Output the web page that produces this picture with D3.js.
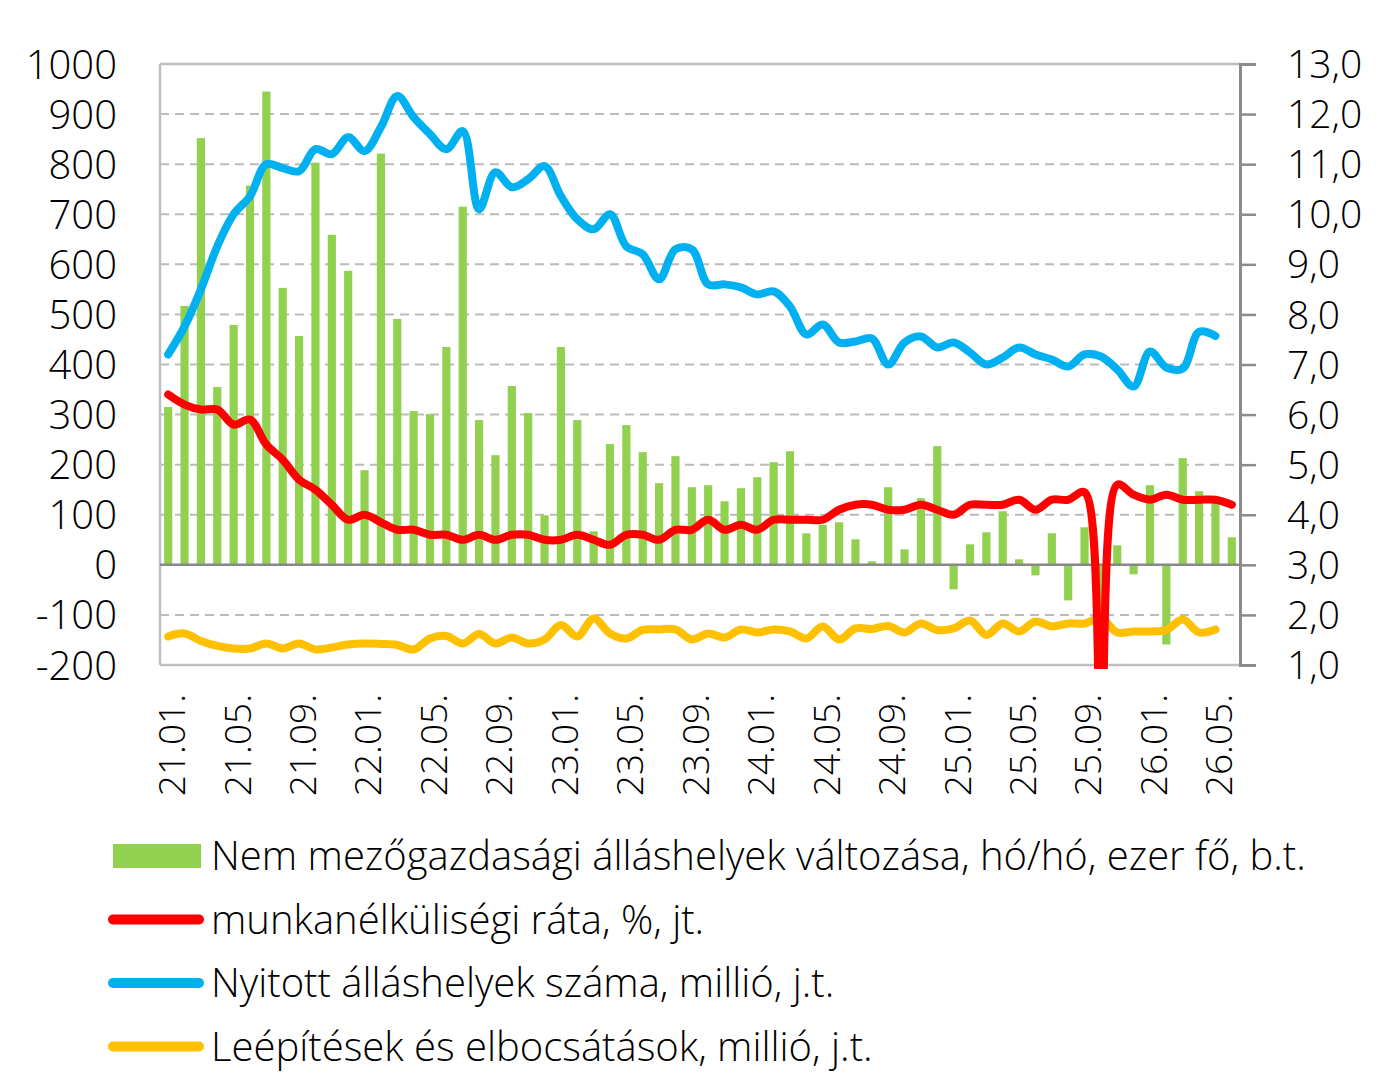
<!DOCTYPE html>
<html>
<head>
<meta charset="utf-8">
<script src="https://cdn.jsdelivr.net/npm/d3@7"></script>
<style>
  body { margin: 0; background: #fff; }
  text { font-family: "Open Sans", sans-serif; font-weight: 300; fill: #000; }
</style>
</head>
<body>
<script>
// categories: 21.01. ... 26.06. (labels every 4th)
const months = ['21.01.','21.02.','21.03.','21.04.','21.05.','21.06.','21.07.','21.08.','21.09.','21.10.','21.11.','21.12.',
  '22.01.','22.02.','22.03.','22.04.','22.05.','22.06.','22.07.','22.08.','22.09.','22.10.','22.11.','22.12.',
  '23.01.','23.02.','23.03.','23.04.','23.05.','23.06.','23.07.','23.08.','23.09.','23.10.','23.11.','23.12.',
  '24.01.','24.02.','24.03.','24.04.','24.05.','24.06.','24.07.','24.08.','24.09.','24.10.','24.11.','24.12.',
  '25.01.','25.02.','25.03.','25.04.','25.05.','25.06.','25.07.','25.08.','25.09.','25.10.','25.11.','25.12.',
  '26.01.','26.02.','26.03.','26.04.','26.05.','26.06.'];
const tickMonths = ['21.01.','21.05.','21.09.','22.01.','22.05.','22.09.','23.01.','23.05.','23.09.',
  '24.01.','24.05.','24.09.','25.01.','25.05.','25.09.','26.01.','26.05.'];

// non-farm payroll change, thousand (left axis)
const payrolls = [315, 517, 852, 355, 479, 757, 945, 553, 457, 803, 659, 587,
  189, 821, 491, 307, 301, 435, 715, 289, 219, 357, 303, 99,
  435, 289, 67, 241, 279, 225, 163, 217, 155, 159, 127, 153,
  175, 205, 227, 63, 80, 85, 51, 7, 155, 31, 133, 237,
  -49, 41, 65, 107, 11, -21, 63, -71, 75, -141, 39, -19,
  159, -159, 213, 147, 125, 55];
// unemployment rate, % (right axis); Oct 2025 missing -> 0
const unemployment = [6.4, 6.2, 6.1, 6.1, 5.8, 5.9, 5.4, 5.1, 4.7, 4.5, 4.2, 3.9,
  4.0, 3.85, 3.7, 3.7, 3.6, 3.6, 3.5, 3.6, 3.5, 3.6, 3.6, 3.5,
  3.5, 3.6, 3.5, 3.4, 3.6, 3.6, 3.5, 3.7, 3.7, 3.9, 3.7, 3.8,
  3.7, 3.9, 3.9, 3.9, 3.9, 4.1, 4.2, 4.2, 4.1, 4.1, 4.2, 4.1,
  4.0, 4.2, 4.2, 4.2, 4.3, 4.1, 4.3, 4.3, 4.45, 0, 4.6, 4.4,
  4.3, 4.4, 4.3, 4.3, 4.3, 4.2];
// job openings, million (right axis)
const openings = [7.2, 7.76, 8.5, 9.36, 10.0, 10.36, 11.0, 10.92, 10.86, 11.3, 11.2, 11.54,
  11.26, 11.74, 12.36, 11.94, 11.6, 11.3, 11.66, 10.1, 10.84, 10.54, 10.7, 10.96,
  10.36, 9.9, 9.7, 10.0, 9.36, 9.2, 8.7, 9.3, 9.3, 8.6, 8.6, 8.54,
  8.4, 8.46, 8.16, 7.6, 7.8, 7.44, 7.46, 7.52, 7.0, 7.44, 7.56, 7.34,
  7.44, 7.24, 7.0, 7.14, 7.34, 7.2, 7.1, 6.96, 7.2, 7.16, 6.9, 6.56,
  7.26, 6.94, 6.92, 7.65, 7.57];
// layoffs and discharges, million (right axis)
const layoffs = [1.57, 1.63, 1.48, 1.38, 1.33, 1.33, 1.43, 1.33, 1.43, 1.31, 1.35, 1.41,
  1.43, 1.42, 1.40, 1.31, 1.53, 1.58, 1.43, 1.62, 1.43, 1.55, 1.43, 1.51,
  1.80, 1.57, 1.93, 1.63, 1.53, 1.70, 1.71, 1.71, 1.51, 1.63, 1.55, 1.71,
  1.65, 1.71, 1.67, 1.53, 1.77, 1.51, 1.73, 1.72, 1.78, 1.65, 1.83, 1.70,
  1.73, 1.89, 1.60, 1.83, 1.67, 1.87, 1.77, 1.83, 1.83, 1.93, 1.65, 1.67,
  1.67, 1.70, 1.91, 1.65, 1.71];

const leftTicks = [-200, -100, 0, 100, 200, 300, 400, 500, 600, 700, 800, 900, 1000];
const rightTicks = [1, 2, 3, 4, 5, 6, 7, 8, 9, 10, 11, 12, 13];

const legendItems = [
  {label: 'Nem mezőgazdasági álláshelyek változása, hó/hó, ezer fő, b.t.', color: '#92d050', type: 'bar'},
  {label: 'munkanélküliségi ráta, %, jt.', color: '#ff0000', type: 'line'},
  {label: 'Nyitott álláshelyek száma, millió, j.t.', color: '#00b0f0', type: 'line'},
  {label: 'Leépítések és elbocsátások, millió, j.t.', color: '#ffc000', type: 'line'}
];

const width = 1391;
const height = 1076;
const plotLeft = 160, plotRight = 1240, plotTop = 64, plotBottom = 665;

const svg = d3.select('body').append('svg')
  .attr('width', width)
  .attr('height', height);

const x = d3.scaleBand()
  .domain(months)
  .range([plotLeft, plotRight])
  .paddingInner(0.5)
  .paddingOuter(0.25);
const cx = d => x(d) + x.bandwidth() / 2;

const yL = d3.scaleLinear().domain([-200, 1000]).range([plotBottom, plotTop]);
const yR = d3.scaleLinear().domain([1, 13]).range([plotBottom, plotTop]);

// gridlines
svg.append('g')
  .selectAll('line')
  .data(leftTicks.filter(d => d !== 0 && d !== 1000 && d !== -200))
  .enter().append('line')
  .attr('x1', plotLeft).attr('x2', plotRight)
  .attr('y1', d => yL(d)).attr('y2', d => yL(d))
  .attr('stroke', '#bbb')
  .attr('stroke-width', 2)
  .attr('stroke-dasharray', '9,6');

// bars
svg.append('g')
  .selectAll('rect')
  .data(payrolls)
  .enter().append('rect')
  .attr('x', (d, i) => x(months[i]))
  .attr('width', x.bandwidth())
  .attr('y', d => yL(Math.max(0, d)))
  .attr('height', d => Math.abs(yL(d) - yL(0)))
  .attr('fill', '#92d050');

// frame
svg.append('line').attr('x1', plotLeft).attr('x2', plotRight).attr('y1', plotTop).attr('y2', plotTop)
  .attr('stroke', '#bfbfbf').attr('stroke-width', 2.5);
svg.append('line').attr('x1', plotLeft).attr('x2', plotRight).attr('y1', plotBottom).attr('y2', plotBottom)
  .attr('stroke', '#bfbfbf').attr('stroke-width', 2.5);
svg.append('line').attr('x1', plotLeft).attr('x2', plotLeft).attr('y1', plotTop).attr('y2', plotBottom)
  .attr('stroke', '#bfbfbf').attr('stroke-width', 2.5);
svg.append('line').attr('x1', plotLeft).attr('x2', plotRight).attr('y1', yL(0)).attr('y2', yL(0))
  .attr('stroke', '#888').attr('stroke-width', 2.5);

// right axis
const rightAxis = svg.append('g')
  .attr('transform', 'translate(' + plotRight + ',0)')
  .call(d3.axisRight(yR).tickValues(rightTicks).tickSize(16).tickFormat(d => d3.format('.1f')(d).replace('.', ',')));
rightAxis.select('.domain').attr('stroke', '#8c8c8c').attr('stroke-width', 3);
rightAxis.selectAll('.tick line').attr('stroke', '#8c8c8c').attr('stroke-width', 2.5);
rightAxis.selectAll('.tick text')
  .attr('x', 47).attr('dy', '0.35em')
  .style('font-size', '39px').style('font-family', '"Open Sans", sans-serif').style('font-weight', 300);

// left axis labels
const leftAxis = svg.append('g')
  .attr('transform', 'translate(' + plotLeft + ',0)')
  .call(d3.axisLeft(yL).tickValues(leftTicks).tickSize(0).tickFormat(d => String(d)));
leftAxis.select('.domain').remove();
leftAxis.selectAll('.tick text')
  .attr('x', -43).attr('dy', '0.35em')
  .style('font-size', '40px').style('font-family', '"Open Sans", sans-serif').style('font-weight', 300);

// x labels
svg.append('g')
  .selectAll('text')
  .data(tickMonths)
  .enter().append('text')
  .attr('transform', d => 'translate(' + (cx(d) + 4) + ',' + 694 + ') rotate(-90)')
  .attr('text-anchor', 'end')
  .attr('dy', '0.35em')
  .style('font-size', '37px')
  .text(d => d);

// lines
svg.append('clipPath').attr('id', 'plot')
  .append('rect').attr('x', plotLeft - 10).attr('y', plotTop - 10)
  .attr('width', plotRight - plotLeft + 20).attr('height', plotBottom - plotTop + 14);

const lineGen = d3.line()
  .x((d, i) => cx(months[i]))
  .y(d => yR(d))
  .curve(d3.curveCatmullRom.alpha(0.5));

const lines = svg.append('g').attr('clip-path', 'url(#plot)');
[[layoffs, '#ffc000'], [openings, '#00b0f0'], [unemployment, '#ff0000']].forEach(([data, color]) => {
  lines.append('path')
    .datum(data)
    .attr('d', lineGen)
    .attr('fill', 'none')
    .attr('stroke', color)
    .attr('stroke-width', 8)
    .attr('stroke-linecap', 'round')
    .attr('stroke-linejoin', 'round');
});

// legend
const legend = svg.append('g')
  .selectAll('g')
  .data(legendItems)
  .enter().append('g')
  .attr('transform', (d, i) => 'translate(0,' + (856 + i * 63.5) + ')');

legend.filter(d => d.type === 'bar').append('rect')
  .attr('x', 113).attr('y', -12).attr('width', 88).attr('height', 24)
  .attr('fill', d => d.color);
legend.filter(d => d.type === 'line').append('line')
  .attr('x1', 113).attr('x2', 199).attr('y1', 0).attr('y2', 0)
  .attr('stroke', d => d.color).attr('stroke-width', 10).attr('stroke-linecap', 'round');
legend.append('text')
  .attr('x', 211).attr('dy', '0.35em')
  .style('font-size', '40px')
  .text(d => d.label);
</script>
</body>
</html>
